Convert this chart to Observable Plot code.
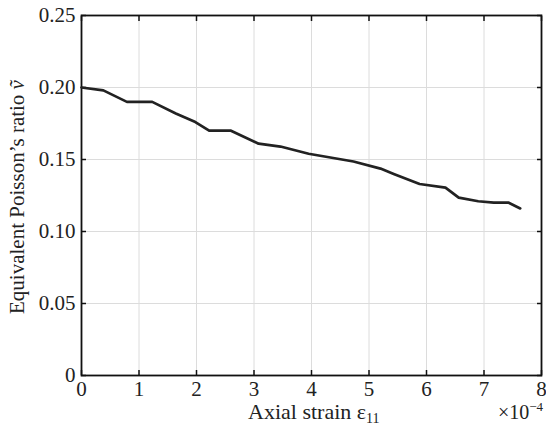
<!DOCTYPE html>
<html><head><meta charset="utf-8">
<script src="https://cdn.jsdelivr.net/npm/d3@7"></script>
<script src="https://cdn.jsdelivr.net/npm/@observablehq/plot@0.6"></script>
<style>
body{margin:0;background:#fff;}
#chart{position:relative;width:546px;height:431px;}
</style>
</head><body><div id="chart"></div>
<script>
const strain = [0, 0.38, 0.79, 1.23, 1.64, 1.98, 2.22, 2.6, 3.08, 3.46, 3.95, 4.73, 5.2, 5.43, 5.88, 6.33, 6.56, 6.9, 7.17, 7.43, 7.63];
const poisson = [0.200, 0.198, 0.190, 0.190, 0.182, 0.176, 0.170, 0.170, 0.161, 0.159, 0.154, 0.1486, 0.1437, 0.140, 0.133, 0.1305, 0.1235, 0.121, 0.120, 0.120, 0.116];
const xTicks = [0,1,2,3,4,5,6,7,8];
const yTicks = [0,0.05,0.10,0.15,0.20,0.25];
const yTickLabels = ["0","0.05","0.10","0.15","0.20","0.25"];
const xLabel = "Axial strain ε";
const xLabelSub = "11";
const yLabel = "Equivalent Poisson\u2019s ratio ";
const yLabelSym = "\u1E7D";
const xExponent = "×10";
const xExponentSup = "−4";

const data = strain.map((s,i)=>({x:s, y:poisson[i]}));
const font = "Liberation Serif";
const blank = () => "";

const plot = Plot.plot({
  width: 546, height: 431,
  marginLeft: 81, marginRight: 5, marginTop: 15, marginBottom: 56,
  style: {fontFamily: font, fontSize: "21px", color: "#222", background: "white"},
  x: {domain: [0, 8]},
  y: {domain: [0, 0.25]},
  marks: [
    Plot.gridX(xTicks, {stroke: "#dcdcdc", strokeOpacity: 1, strokeWidth: 1}),
    Plot.gridY(yTicks, {stroke: "#dcdcdc", strokeOpacity: 1, strokeWidth: 1}),
    Plot.axisX(xTicks, {anchor: "bottom", tickSize: -5, tickFormat: blank, stroke: "#111", strokeWidth: 1.5, label: null}),
    Plot.axisX(xTicks, {anchor: "top", tickSize: -5, tickFormat: blank, stroke: "#111", strokeWidth: 1.5, label: null}),
    Plot.axisY(yTicks, {anchor: "left", tickSize: -5, tickFormat: blank, stroke: "#111", strokeWidth: 1.5, label: null}),
    Plot.axisY(yTicks, {anchor: "right", tickSize: -5, tickFormat: blank, stroke: "#111", strokeWidth: 1.5, label: null}),
    Plot.axisX(xTicks, {anchor: "bottom", tickSize: 0, tickPadding: 6, fontSize: 21, fontFamily: font, fill: "#222", label: null}),
    Plot.axisY(yTicks, {anchor: "left", tickSize: 0, tickPadding: 6, fontSize: 21, fontFamily: font, fill: "#222", tickFormat: d => yTickLabels[yTicks.indexOf(d)], label: null}),
    Plot.frame({stroke: "#111", strokeWidth: 1.8}),
    Plot.line(data, {x: "x", y: "y", stroke: "#222", strokeWidth: 2.7, strokeLinejoin: "round"})
  ]
});
const chart = document.getElementById("chart");
chart.appendChild(plot);

// axis labels as real text
const svg = d3.select(plot);
const xs = plot.scale("x"), ys = plot.scale("y");
const xl = svg.append("text")
  .attr("x", 248).attr("y", 419)
  .attr("text-anchor","start").attr("font-family", font).attr("font-size", 22).attr("fill","#222");
xl.append("tspan").text(xLabel);
xl.append("tspan").attr("font-size", 14).attr("dy", 4).text(xLabelSub);

const ex = svg.append("text")
  .attr("x", xs.apply(8) + 2).attr("y", 419)
  .attr("text-anchor","end").attr("font-family", font).attr("font-size", 20).attr("fill","#222");
ex.append("tspan").text(xExponent);
ex.append("tspan").attr("font-size", 13).attr("dy", -8).text(xExponentSup);

const yl = svg.append("text")
  .attr("transform", `translate(24,${(ys.apply(0)+ys.apply(0.25))/2 + 2}) rotate(-90)`)
  .attr("text-anchor","middle").attr("font-family", font).attr("font-size", 21).attr("fill","#222");
yl.append("tspan").text(yLabel);
yl.append("tspan").attr("font-style","italic").text(yLabelSym);
</script>
</body></html>
